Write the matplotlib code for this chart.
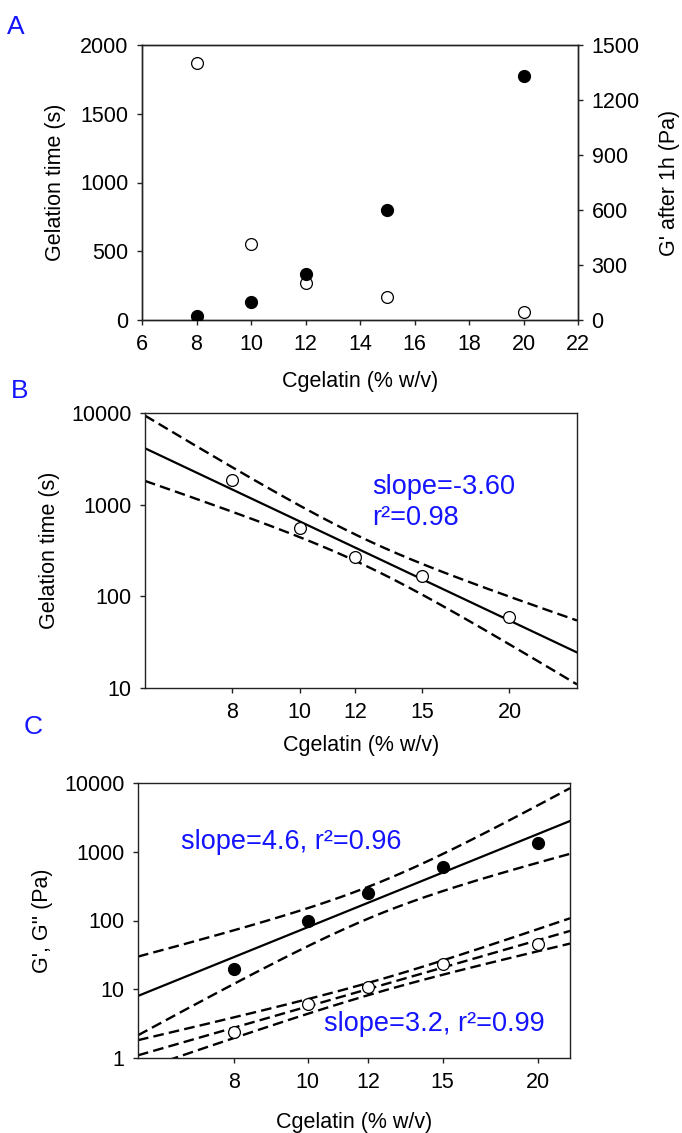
import numpy as np
import matplotlib
matplotlib.use('Agg')
from matplotlib import pyplot as plt
from matplotlib.ticker import FixedLocator, FixedFormatter, NullLocator

#   daten
c_gelatin = [8, 10, 12, 15, 20]
gel_time = [1870, 550, 270, 165, 60]        # s, offene kreise (A, B)
g_prime_1h = [20, 97, 250, 600, 1330]       # Pa, gefuellte kreise (A, C)
g_second = [2.4, 6.1, 10.8, 23.3, 45.5]     # Pa, offene kreise (C)

a_xticks = [6, 8, 10, 12, 14, 16, 18, 20, 22]
a_left_ticks = [0, 500, 1000, 1500, 2000]
a_right_ticks = [0, 300, 600, 900, 1200, 1500]
log_xticks = [8, 10, 12, 15, 20]
b_yticks = [10, 100, 1000, 10000]
c_yticks = [1, 10, 100, 1000, 10000]

T95_DF3 = 3.182   # t-wert 95 %, n-2 = 3 freiheitsgrade

plt.rcParams['font.family'] = ['Liberation Sans', 'DejaVu Sans']
plt.rcParams['font.size'] = 15.5
BLUE = '#1414ff'
FS = 15.5


def fit_with_band(x, y, xlim):
    #   lineare regression im log-log raum mit 95 % vertrauensband
    lx = np.log10(x)
    ly = np.log10(y)
    slope, icpt = np.polyfit(lx, ly, 1)
    n = len(lx)
    res = ly - (slope * lx + icpt)
    s = np.sqrt(np.sum(res ** 2) / (n - 2))
    sxx = np.sum((lx - lx.mean()) ** 2)
    xs = np.logspace(np.log10(xlim[0]), np.log10(xlim[1]), 200)
    lxs = np.log10(xs)
    fit = slope * lxs + icpt
    half = T95_DF3 * s * np.sqrt(1.0 / n + (lxs - lx.mean()) ** 2 / sxx)
    return xs, 10 ** fit, 10 ** (fit + half), 10 ** (fit - half)


def style_axis(ax):
    for sp in ax.spines.values():
        sp.set_linewidth(1.0)
        sp.set_color('#222222')
    ax.tick_params(direction='out', length=3.8, width=1.0, color='#222222',
                   labelsize=FS, pad=6)


fig = plt.figure(figsize=(6.82, 11.33), dpi=100)

#   panel A
ax_a = fig.add_axes([142 / 682, 1 - 320 / 1133, 436 / 682, 275 / 1133])
ax_a2 = ax_a.twinx()
ax_a.plot(c_gelatin, gel_time, 'o', ms=8.5, mfc='white', mec='black', mew=0.9, zorder=3)
ax_a2.plot(c_gelatin, g_prime_1h, 'o', ms=8.5, mfc='black', mec='black', zorder=3)
ax_a.set_xlim(6, 22)
ax_a.set_ylim(0, 2000)
ax_a2.set_ylim(0, 1500)
ax_a.set_xticks(a_xticks)
ax_a.set_yticks(a_left_ticks)
ax_a2.set_yticks(a_right_ticks)
style_axis(ax_a)
style_axis(ax_a2)
ax_a.set_xlabel('Cgelatin (% w/v)', fontsize=FS, labelpad=12)
ax_a.set_ylabel('Gelation time (s)', fontsize=FS, labelpad=10)
ax_a2.set_ylabel("G' after 1h (Pa)", fontsize=FS, rotation=90, labelpad=14)

dash_kw = dict(color='black', lw=1.7, dashes=(4.5, 2.2))

#   panel B
ax_b = fig.add_axes([145 / 682, 1 - 688 / 1133, 432 / 682, 275 / 1133])
b_xlim = (6, 25)
xs, fit, up, lo = fit_with_band(c_gelatin, gel_time, b_xlim)
ax_b.plot(xs, fit, color='black', lw=1.6, zorder=2)
ax_b.plot(xs, up, **dash_kw, zorder=2)
ax_b.plot(xs, lo, **dash_kw, zorder=2)
ax_b.plot(c_gelatin, gel_time, 'o', ms=8.5, mfc='white', mec='black', mew=0.9, zorder=3)
ax_b.set_xscale('log')
ax_b.set_yscale('log')
ax_b.set_xlim(*b_xlim)
ax_b.set_ylim(10, 10000)
ax_b.xaxis.set_major_locator(FixedLocator(log_xticks))
ax_b.xaxis.set_major_formatter(FixedFormatter([str(v) for v in log_xticks]))
ax_b.xaxis.set_minor_locator(NullLocator())
ax_b.yaxis.set_major_locator(FixedLocator(b_yticks))
ax_b.yaxis.set_major_formatter(FixedFormatter([str(v) for v in b_yticks]))
ax_b.yaxis.set_minor_locator(NullLocator())
style_axis(ax_b)
ax_b.set_xlabel('Cgelatin (% w/v)', fontsize=FS, labelpad=9)
ax_b.set_ylabel('Gelation time (s)', fontsize=FS, labelpad=8)
ax_b.text(0.525, 0.705, 'slope=-3.60', color=BLUE, fontsize=19.5, transform=ax_b.transAxes)
ax_b.text(0.525, 0.593, 'r\u00b2=0.98', color=BLUE, fontsize=19.5, transform=ax_b.transAxes)

#   panel C
ax_c = fig.add_axes([138 / 682, 1 - 1058 / 1133, 432 / 682, 275 / 1133])
c_xlim = (6, 22)
xs, fit, up, lo = fit_with_band(c_gelatin, g_prime_1h, c_xlim)
ax_c.plot(xs, fit, color='black', lw=1.6, zorder=2)
ax_c.plot(xs, up, **dash_kw, zorder=2)
ax_c.plot(xs, lo, **dash_kw, zorder=2)
xs, fit, up, lo = fit_with_band(c_gelatin, g_second, c_xlim)
ax_c.plot(xs, fit, **dash_kw, zorder=2)
ax_c.plot(xs, up, **dash_kw, zorder=2)
ax_c.plot(xs, lo, **dash_kw, zorder=2)
ax_c.plot(c_gelatin, g_prime_1h, 'o', ms=8.5, mfc='black', mec='black', zorder=3)
ax_c.plot(c_gelatin, g_second, 'o', ms=8.5, mfc='white', mec='black', mew=0.9, zorder=3)
ax_c.set_xscale('log')
ax_c.set_yscale('log')
ax_c.set_xlim(*c_xlim)
ax_c.set_ylim(1, 10000)
ax_c.xaxis.set_major_locator(FixedLocator(log_xticks))
ax_c.xaxis.set_major_formatter(FixedFormatter([str(v) for v in log_xticks]))
ax_c.xaxis.set_minor_locator(NullLocator())
ax_c.yaxis.set_major_locator(FixedLocator(c_yticks))
ax_c.yaxis.set_major_formatter(FixedFormatter([str(v) for v in c_yticks]))
ax_c.yaxis.set_minor_locator(NullLocator())
style_axis(ax_c)
ax_c.set_xlabel('Cgelatin (% w/v)', fontsize=FS, labelpad=14)
ax_c.set_ylabel("G', G'' (Pa)", fontsize=FS, labelpad=8)
ax_c.text(0.10, 0.76, 'slope=4.6, r\u00b2=0.96', color=BLUE, fontsize=19.5, transform=ax_c.transAxes)
ax_c.text(0.43, 0.098, 'slope=3.2, r\u00b2=0.99', color=BLUE, fontsize=19.5, transform=ax_c.transAxes)

#   panel buchstaben
fig.text(16 / 682, 1 - 27 / 1133, 'A', color=BLUE, fontsize=19, ha='center', va='center')
fig.text(20 / 682, 1 - 391 / 1133, 'B', color=BLUE, fontsize=19, ha='center', va='center')
fig.text(33 / 682, 1 - 727 / 1133, 'C', color=BLUE, fontsize=19, ha='center', va='center')

fig.savefig('out.png', dpi=100)
